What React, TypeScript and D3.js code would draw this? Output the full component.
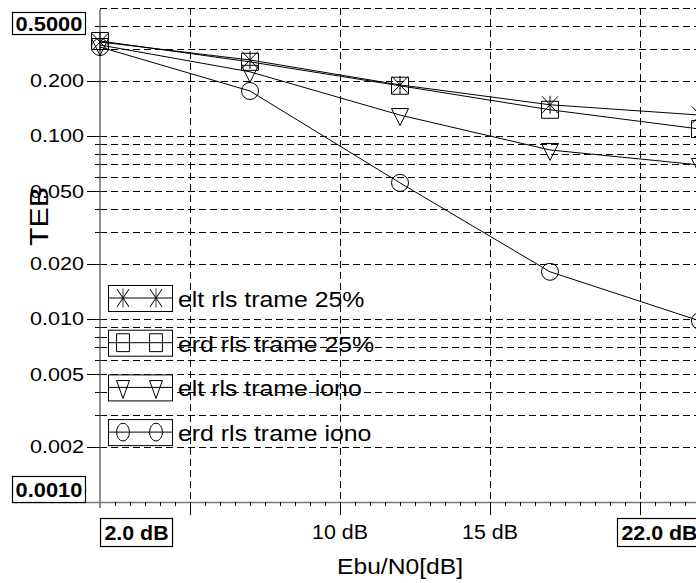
import React from "react";
import * as d3 from "d3";

// ---- data ----
const xDb = [2, 7, 12, 17, 22];
const eltTrame25 = [0.326, 0.26, 0.19, 0.148, 0.13];
const erdTrame25 = [0.33, 0.254, 0.188, 0.139, 0.109];
const eltTrameIono = [0.314, 0.224, 0.13, 0.0838, 0.0694];
const erdTrameIono = [0.306, 0.176, 0.0554, 0.0181, 0.00975];
const seriesNames = ["elt rls trame 25%", "erd rls trame 25%", "elt rls trame iono", "erd rls trame iono"];
const seriesMarkers = ["star", "square", "triangle", "circle"];
const yTickValues = [0.2, 0.1, 0.05, 0.02, 0.01, 0.005, 0.002];
const yTickLabels = ["0.200", "0.100", "0.050", "0.020", "0.010", "0.005", "0.002"];
const xTickValues = [10, 15];
const xTickLabels = ["10 dB", "15 dB"];
const xGridValues = [5, 10, 15, 20];
const yMaxLabel = "0.5000";
const yMinLabel = "0.0010";
const xMinLabel = "2.0 dB";
const xMaxLabel = "22.0 dB";
const xTitle = "Ebu/N0[dB]";
const yTitle = "TEB";

const W = 696;
const H = 583;
const FONT = "'Liberation Sans', Arial, Helvetica, sans-serif";

const x = d3.scaleLinear().domain([2, 22]).range([100, 700]);
const y = d3.scaleLog().domain([0.001, 0.5]).range([502, 8]);

const yGrid: number[] = [];
[0.001, 0.01, 0.1].forEach((k) => {
  for (let m = 2; m <= 9; m++) {
    const v = m * k;
    if (v < 0.5 - 1e-9) yGrid.push(v);
  }
  if (k > 0.001) yGrid.push(k);
});
const yMinor = yGrid.filter((v) => !yTickValues.some((t) => Math.abs(t - v) < 1e-9));
const xMinor = d3.range(2.5, 22.01, 0.5).filter((v) => !xGridValues.includes(v));

function Marker({ type, cx, cy, s = 1, sx = 1 }: { type: string; cx: number; cy: number; s?: number; sx?: number }) {
  const common = { fill: "none", stroke: "#000", strokeWidth: 1, vectorEffect: "non-scaling-stroke" as any };
  let el: React.ReactNode = null;
  if (type === "star") {
    el = (
      <g {...common}>
        <line x1={-8} y1={-8.5} x2={8} y2={8.5} />
        <line x1={8} y1={-8.5} x2={-8} y2={8.5} />
        <line x1={0} y1={-9} x2={0} y2={9} />
      </g>
    );
  } else if (type === "square") {
    el = <rect x={-8.5} y={-8.5} width={17} height={17} {...common} />;
  } else if (type === "triangle") {
    el = <path d="M-8.5,-6.5 L8.5,-6.5 L0,10.5 Z" {...common} />;
  } else {
    el = <circle r={8.5} {...common} />;
  }
  return <g transform={`translate(${cx},${cy}) scale(${s * sx},${s})`}>{el}</g>;
}

function SText({ x: tx, y: ty, sx, size, anchor = "start", bold = false, children }: any) {
  return (
    <g transform={`translate(${tx},${ty}) scale(${sx},1)`}>
      <text x={0} y={0} textAnchor={anchor} fontSize={size} fontFamily={FONT} fontWeight={bold ? "bold" : "normal"} fill="#000">
        {children}
      </text>
    </g>
  );
}

export default function App() {
  const seriesData = [eltTrame25, erdTrame25, eltTrameIono, erdTrameIono];
  const line = d3
    .line<number>()
    .x((_, i) => x(xDb[i]))
    .y((d) => y(d));
  const dash = "7,4";
  const gy = (v: number) => Math.round(y(v)) + 0.5;
  const gx = (v: number) => Math.round(x(v)) + 0.5;
  const legendTops = [285, 329.7, 374.4, 419.1];

  return (
    <svg width={W} height={H} style={{ position: "absolute", left: 0, top: 0, background: "#fff" }}>
      <rect x={0} y={0} width={W} height={H} fill="#fff" />
      {/* horizontal grid */}
      {yGrid.map((v, i) => (
        <line key={"hg" + i} x1={100} x2={700} y1={gy(v)} y2={gy(v)} stroke="#000" strokeWidth={1} strokeDasharray={dash} />
      ))}
      <line x1={100} x2={700} y1={gy(0.5)} y2={gy(0.5)} stroke="#000" strokeWidth={1} strokeDasharray={dash} />
      {/* vertical grid */}
      {xGridValues.map((v, i) => (
        <line key={"vg" + i} x1={gx(v)} x2={gx(v)} y1={8} y2={502} stroke="#000" strokeWidth={1} strokeDasharray={dash} />
      ))}
      {/* axes */}
      <line x1={100} x2={100} y1={9} y2={508} stroke="#777" strokeWidth={1.6} />
      <line x1={12} x2={700} y1={502.5} y2={502.5} stroke="#777" strokeWidth={1.6} />
      {/* y ticks */}
      {yTickValues.map((v, i) => (
        <line key={"yt" + i} x1={87} x2={100} y1={gy(v)} y2={gy(v)} stroke="#000" strokeWidth={1} />
      ))}
      {yMinor.map((v, i) => (
        <line key={"ym" + i} x1={95} x2={100} y1={gy(v)} y2={gy(v)} stroke="#000" strokeWidth={1} />
      ))}
      {/* x ticks */}
      {xGridValues.map((v, i) => (
        <line key={"xt" + i} x1={gx(v)} x2={gx(v)} y1={502} y2={515} stroke="#000" strokeWidth={1} />
      ))}
      {xMinor.map((v, i) => (
        <line key={"xm" + i} x1={gx(v)} x2={gx(v)} y1={502} y2={506} stroke="#000" strokeWidth={1} />
      ))}
      {/* y tick labels */}
      {yTickValues.map((v, i) => (
        <SText key={"yl" + i} x={84} y={y(v) + 6.5} sx={1.2} size={18} anchor="end">
          {yTickLabels[i]}
        </SText>
      ))}
      {/* x tick labels */}
      {xTickValues.map((v, i) => (
        <SText key={"xl" + i} x={x(v)} y={539} sx={1.07} size={20} anchor="middle">
          {xTickLabels[i]}
        </SText>
      ))}
      {/* boxed labels */}
      <rect x={12.5} y={12.5} width={73} height={22} fill="#fff" stroke="#000" strokeWidth={1.2} />
      <SText x={49} y={30.5} sx={1.12} size={19.5} anchor="middle" bold>
        {yMaxLabel}
      </SText>
      <rect x={12.5} y={476.5} width={73} height={26} fill="#fff" stroke="#000" strokeWidth={1.2} />
      <SText x={49} y={497} sx={1.12} size={19.5} anchor="middle" bold>
        {yMinLabel}
      </SText>
      <rect x={100.5} y={518.5} width={72} height={28} fill="#fff" stroke="#000" strokeWidth={1.2} />
      <SText x={136.5} y={539.5} sx={1.07} size={20} anchor="middle" bold>
        {xMinLabel}
      </SText>
      <rect x={617.5} y={518.5} width={84} height={28} fill="#fff" stroke="#000" strokeWidth={1.2} />
      <SText x={659.5} y={539.5} sx={1.07} size={20} anchor="middle" bold>
        {xMaxLabel}
      </SText>
      {/* titles */}
      <SText x={400} y={574} sx={1.12} size={22} anchor="middle">
        {xTitle}
      </SText>
      <g transform="translate(48,216.5) rotate(-90)">
        <text x={0} y={0} textAnchor="middle" fontSize={26} fontFamily={FONT} textLength={59} lengthAdjust="spacingAndGlyphs">
          {yTitle}
        </text>
      </g>
      {/* series */}
      {seriesData.map((d, si) => (
        <g key={"s" + si}>
          <path d={line(d) || ""} fill="none" stroke="#000" strokeWidth={1} />
          {d.map((v, i) => (
            <Marker key={i} type={seriesMarkers[si]} cx={x(xDb[i])} cy={y(v)} />
          ))}
        </g>
      ))}
      {/* legend */}
      {seriesNames.map((name, i) => {
        const top = legendTops[i];
        const cy = top + 13;
        return (
          <g key={"lg" + i}>
            <rect x={108.5} y={top + 0.5} width={64} height={26} fill="#fff" stroke="#000" strokeWidth={1} />
            <line x1={108} x2={172} y1={cy} y2={cy} stroke="#000" strokeWidth={1} />
            <Marker type={seriesMarkers[i]} cx={123} cy={cy} s={1.05} sx={0.72} />
            <Marker type={seriesMarkers[i]} cx={156} cy={cy} s={1.05} sx={0.72} />
            <SText x={178} y={top + 22} sx={1.13} size={22}>
              {name}
            </SText>
          </g>
        );
      })}
    </svg>
  );
}
